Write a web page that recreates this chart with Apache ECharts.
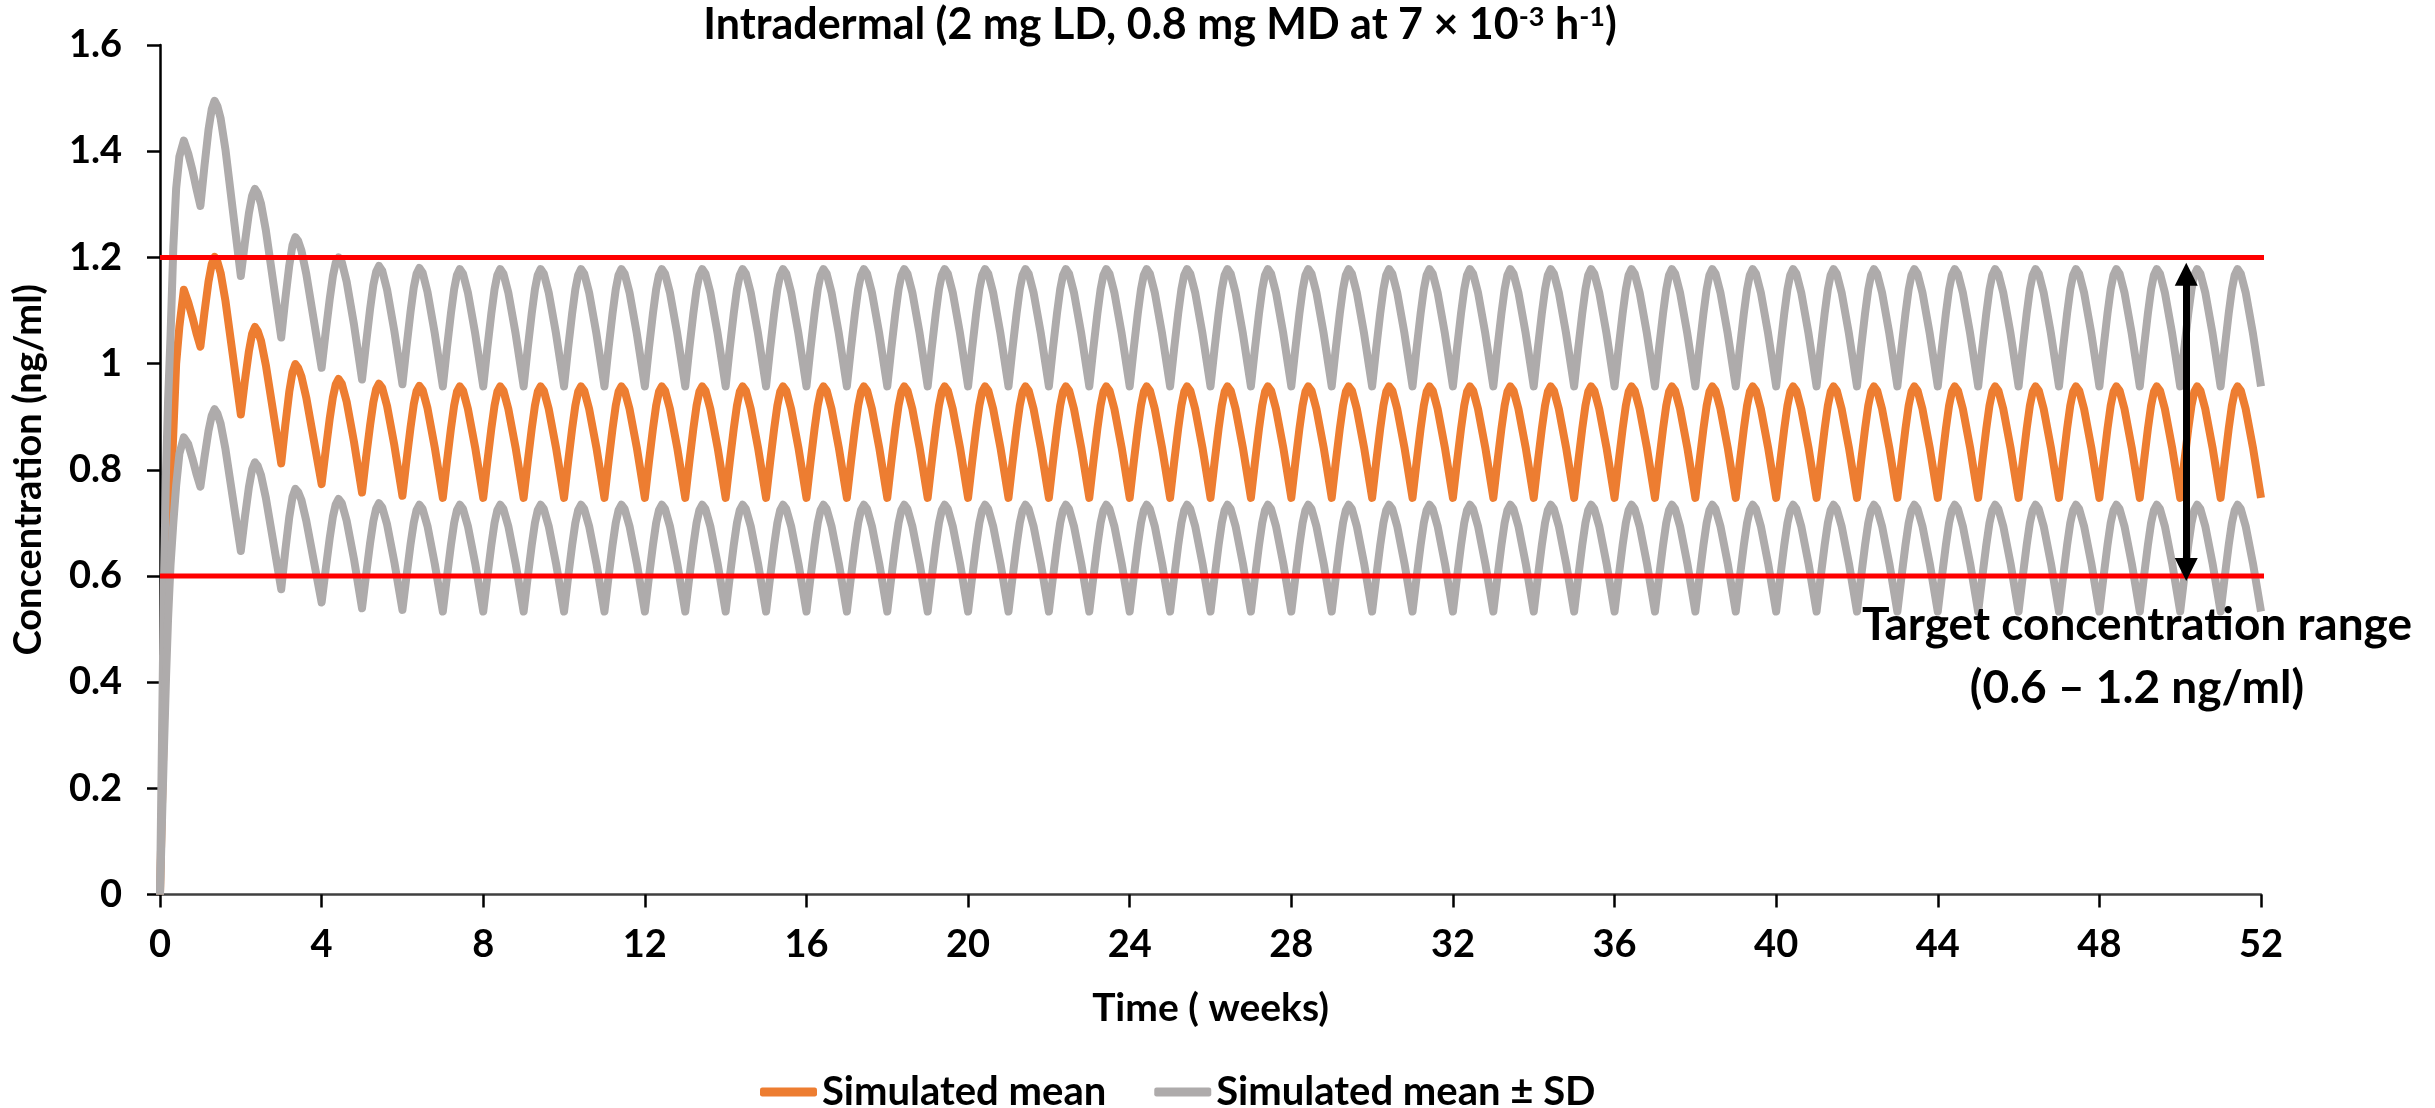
<!DOCTYPE html>
<html>
<head>
<meta charset="utf-8">
<title>Intradermal</title>
<script src="https://cdn.jsdelivr.net/npm/echarts@6/dist/echarts.min.js"></script>
<style>
    html, body { margin: 0; padding: 0; background: #ffffff; }
    #chart { width: 2435px; height: 1108px; }
</style>
</head>
<body>
<div id="chart"></div>
<script>
// sample times (weeks)
var weeks = [
    0, 0.05, 0.1, 0.15, 0.2, 0.26, 0.33, 0.4, 0.48, 0.59, 0.7, 0.8, 0.9,
    1, 1.1, 1.2, 1.28, 1.35, 1.42, 1.5, 1.62, 1.8,
    2, 2.1, 2.2, 2.28, 2.35, 2.42, 2.5, 2.62, 2.8,
    3, 3.1, 3.2, 3.28, 3.35, 3.42, 3.5, 3.62, 3.8,
    4, 4.1, 4.2, 4.28, 4.35, 4.42, 4.5, 4.62, 4.8,
    5, 5.1, 5.2, 5.28, 5.35, 5.42, 5.5, 5.62, 5.8,
    6, 6.1, 6.2, 6.28, 6.35, 6.42, 6.5, 6.62, 6.8,
    7, 7.1, 7.2, 7.28, 7.35, 7.42, 7.5, 7.62, 7.8,
    8, 8.1, 8.2, 8.28, 8.35, 8.42, 8.5, 8.62, 8.8,
    9, 9.1, 9.2, 9.28, 9.35, 9.42, 9.5, 9.62, 9.8,
    10, 10.1, 10.2, 10.28, 10.35, 10.42, 10.5, 10.62, 10.8,
    11, 11.1, 11.2, 11.28, 11.35, 11.42, 11.5, 11.62, 11.8,
    12, 12.1, 12.2, 12.28, 12.35, 12.42, 12.5, 12.62, 12.8,
    13, 13.1, 13.2, 13.28, 13.35, 13.42, 13.5, 13.62, 13.8,
    14, 14.1, 14.2, 14.28, 14.35, 14.42, 14.5, 14.62, 14.8,
    15, 15.1, 15.2, 15.28, 15.35, 15.42, 15.5, 15.62, 15.8,
    16, 16.1, 16.2, 16.28, 16.35, 16.42, 16.5, 16.62, 16.8,
    17, 17.1, 17.2, 17.28, 17.35, 17.42, 17.5, 17.62, 17.8,
    18, 18.1, 18.2, 18.28, 18.35, 18.42, 18.5, 18.62, 18.8,
    19, 19.1, 19.2, 19.28, 19.35, 19.42, 19.5, 19.62, 19.8,
    20, 20.1, 20.2, 20.28, 20.35, 20.42, 20.5, 20.62, 20.8,
    21, 21.1, 21.2, 21.28, 21.35, 21.42, 21.5, 21.62, 21.8,
    22, 22.1, 22.2, 22.28, 22.35, 22.42, 22.5, 22.62, 22.8,
    23, 23.1, 23.2, 23.28, 23.35, 23.42, 23.5, 23.62, 23.8,
    24, 24.1, 24.2, 24.28, 24.35, 24.42, 24.5, 24.62, 24.8,
    25, 25.1, 25.2, 25.28, 25.35, 25.42, 25.5, 25.62, 25.8,
    26, 26.1, 26.2, 26.28, 26.35, 26.42, 26.5, 26.62, 26.8,
    27, 27.1, 27.2, 27.28, 27.35, 27.42, 27.5, 27.62, 27.8,
    28, 28.1, 28.2, 28.28, 28.35, 28.42, 28.5, 28.62, 28.8,
    29, 29.1, 29.2, 29.28, 29.35, 29.42, 29.5, 29.62, 29.8,
    30, 30.1, 30.2, 30.28, 30.35, 30.42, 30.5, 30.62, 30.8,
    31, 31.1, 31.2, 31.28, 31.35, 31.42, 31.5, 31.62, 31.8,
    32, 32.1, 32.2, 32.28, 32.35, 32.42, 32.5, 32.62, 32.8,
    33, 33.1, 33.2, 33.28, 33.35, 33.42, 33.5, 33.62, 33.8,
    34, 34.1, 34.2, 34.28, 34.35, 34.42, 34.5, 34.62, 34.8,
    35, 35.1, 35.2, 35.28, 35.35, 35.42, 35.5, 35.62, 35.8,
    36, 36.1, 36.2, 36.28, 36.35, 36.42, 36.5, 36.62, 36.8,
    37, 37.1, 37.2, 37.28, 37.35, 37.42, 37.5, 37.62, 37.8,
    38, 38.1, 38.2, 38.28, 38.35, 38.42, 38.5, 38.62, 38.8,
    39, 39.1, 39.2, 39.28, 39.35, 39.42, 39.5, 39.62, 39.8,
    40, 40.1, 40.2, 40.28, 40.35, 40.42, 40.5, 40.62, 40.8,
    41, 41.1, 41.2, 41.28, 41.35, 41.42, 41.5, 41.62, 41.8,
    42, 42.1, 42.2, 42.28, 42.35, 42.42, 42.5, 42.62, 42.8,
    43, 43.1, 43.2, 43.28, 43.35, 43.42, 43.5, 43.62, 43.8,
    44, 44.1, 44.2, 44.28, 44.35, 44.42, 44.5, 44.62, 44.8,
    45, 45.1, 45.2, 45.28, 45.35, 45.42, 45.5, 45.62, 45.8,
    46, 46.1, 46.2, 46.28, 46.35, 46.42, 46.5, 46.62, 46.8,
    47, 47.1, 47.2, 47.28, 47.35, 47.42, 47.5, 47.62, 47.8,
    48, 48.1, 48.2, 48.28, 48.35, 48.42, 48.5, 48.62, 48.8,
    49, 49.1, 49.2, 49.28, 49.35, 49.42, 49.5, 49.62, 49.8,
    50, 50.1, 50.2, 50.28, 50.35, 50.42, 50.5, 50.62, 50.8,
    51, 51.1, 51.2, 51.28, 51.35, 51.42, 51.5, 51.62, 51.8,
    52
];

// simulated mean (ng/ml)
var simMean = [
    0, 0.17, 0.33, 0.47, 0.61, 0.74, 0.87, 1.00, 1.07, 1.139, 1.115, 1.088, 1.058,
    1.032, 1.096, 1.154, 1.187, 1.201, 1.192, 1.171, 1.118, 1.017,
    0.904, 0.967, 1.023, 1.056, 1.069, 1.061, 1.043, 0.997, 0.910,
    0.812, 0.883, 0.947, 0.984, 0.999, 0.992, 0.976, 0.936, 0.859,
    0.773, 0.836, 0.896, 0.937, 0.961, 0.971, 0.962, 0.928, 0.853,
    0.757, 0.823, 0.884, 0.927, 0.952, 0.962, 0.954, 0.920, 0.846,
    0.751, 0.817, 0.879, 0.923, 0.948, 0.958, 0.950, 0.916, 0.842,
    0.747, 0.814, 0.877, 0.921, 0.947, 0.957, 0.949, 0.915, 0.842,
    0.747, 0.814, 0.877, 0.921, 0.947, 0.957, 0.949, 0.915, 0.842,
    0.747, 0.814, 0.877, 0.921, 0.947, 0.957, 0.949, 0.915, 0.842,
    0.747, 0.814, 0.877, 0.921, 0.947, 0.957, 0.949, 0.915, 0.842,
    0.747, 0.814, 0.877, 0.921, 0.947, 0.957, 0.949, 0.915, 0.842,
    0.747, 0.814, 0.877, 0.921, 0.947, 0.957, 0.949, 0.915, 0.842,
    0.747, 0.814, 0.877, 0.921, 0.947, 0.957, 0.949, 0.915, 0.842,
    0.747, 0.814, 0.877, 0.921, 0.947, 0.957, 0.949, 0.915, 0.842,
    0.747, 0.814, 0.877, 0.921, 0.947, 0.957, 0.949, 0.915, 0.842,
    0.747, 0.814, 0.877, 0.921, 0.947, 0.957, 0.949, 0.915, 0.842,
    0.747, 0.814, 0.877, 0.921, 0.947, 0.957, 0.949, 0.915, 0.842,
    0.747, 0.814, 0.877, 0.921, 0.947, 0.957, 0.949, 0.915, 0.842,
    0.747, 0.814, 0.877, 0.921, 0.947, 0.957, 0.949, 0.915, 0.842,
    0.747, 0.814, 0.877, 0.921, 0.947, 0.957, 0.949, 0.915, 0.842,
    0.747, 0.814, 0.877, 0.921, 0.947, 0.957, 0.949, 0.915, 0.842,
    0.747, 0.814, 0.877, 0.921, 0.947, 0.957, 0.949, 0.915, 0.842,
    0.747, 0.814, 0.877, 0.921, 0.947, 0.957, 0.949, 0.915, 0.842,
    0.747, 0.814, 0.877, 0.921, 0.947, 0.957, 0.949, 0.915, 0.842,
    0.747, 0.814, 0.877, 0.921, 0.947, 0.957, 0.949, 0.915, 0.842,
    0.747, 0.814, 0.877, 0.921, 0.947, 0.957, 0.949, 0.915, 0.842,
    0.747, 0.814, 0.877, 0.921, 0.947, 0.957, 0.949, 0.915, 0.842,
    0.747, 0.814, 0.877, 0.921, 0.947, 0.957, 0.949, 0.915, 0.842,
    0.747, 0.814, 0.877, 0.921, 0.947, 0.957, 0.949, 0.915, 0.842,
    0.747, 0.814, 0.877, 0.921, 0.947, 0.957, 0.949, 0.915, 0.842,
    0.747, 0.814, 0.877, 0.921, 0.947, 0.957, 0.949, 0.915, 0.842,
    0.747, 0.814, 0.877, 0.921, 0.947, 0.957, 0.949, 0.915, 0.842,
    0.747, 0.814, 0.877, 0.921, 0.947, 0.957, 0.949, 0.915, 0.842,
    0.747, 0.814, 0.877, 0.921, 0.947, 0.957, 0.949, 0.915, 0.842,
    0.747, 0.814, 0.877, 0.921, 0.947, 0.957, 0.949, 0.915, 0.842,
    0.747, 0.814, 0.877, 0.921, 0.947, 0.957, 0.949, 0.915, 0.842,
    0.747, 0.814, 0.877, 0.921, 0.947, 0.957, 0.949, 0.915, 0.842,
    0.747, 0.814, 0.877, 0.921, 0.947, 0.957, 0.949, 0.915, 0.842,
    0.747, 0.814, 0.877, 0.921, 0.947, 0.957, 0.949, 0.915, 0.842,
    0.747, 0.814, 0.877, 0.921, 0.947, 0.957, 0.949, 0.915, 0.842,
    0.747, 0.814, 0.877, 0.921, 0.947, 0.957, 0.949, 0.915, 0.842,
    0.747, 0.814, 0.877, 0.921, 0.947, 0.957, 0.949, 0.915, 0.842,
    0.747, 0.814, 0.877, 0.921, 0.947, 0.957, 0.949, 0.915, 0.842,
    0.747, 0.814, 0.877, 0.921, 0.947, 0.957, 0.949, 0.915, 0.842,
    0.747, 0.814, 0.877, 0.921, 0.947, 0.957, 0.949, 0.915, 0.842,
    0.747, 0.814, 0.877, 0.921, 0.947, 0.957, 0.949, 0.915, 0.842,
    0.747, 0.814, 0.877, 0.921, 0.947, 0.957, 0.949, 0.915, 0.842,
    0.747, 0.814, 0.877, 0.921, 0.947, 0.957, 0.949, 0.915, 0.842,
    0.747, 0.814, 0.877, 0.921, 0.947, 0.957, 0.949, 0.915, 0.842,
    0.747, 0.814, 0.877, 0.921, 0.947, 0.957, 0.949, 0.915, 0.842,
    0.747, 0.814, 0.877, 0.921, 0.947, 0.957, 0.949, 0.915, 0.842,
    0.747
];

// simulated mean + SD
var simUpper = [
    0, 0.30, 0.60, 0.80, 0.93, 1.05, 1.22, 1.33, 1.39, 1.420, 1.395, 1.365, 1.330,
    1.297, 1.372, 1.440, 1.479, 1.495, 1.485, 1.462, 1.403, 1.290,
    1.165, 1.227, 1.283, 1.316, 1.329, 1.321, 1.301, 1.251, 1.155,
    1.049, 1.121, 1.185, 1.223, 1.238, 1.231, 1.213, 1.169, 1.085,
    0.992, 1.059, 1.121, 1.165, 1.190, 1.200, 1.191, 1.154, 1.074,
    0.970, 1.038, 1.103, 1.148, 1.173, 1.184, 1.175, 1.139, 1.061,
    0.961, 1.031, 1.097, 1.143, 1.169, 1.180, 1.171, 1.135, 1.057,
    0.957, 1.028, 1.094, 1.140, 1.167, 1.178, 1.169, 1.134, 1.057,
    0.957, 1.028, 1.094, 1.140, 1.167, 1.178, 1.169, 1.134, 1.057,
    0.957, 1.028, 1.094, 1.140, 1.167, 1.178, 1.169, 1.134, 1.057,
    0.957, 1.028, 1.094, 1.140, 1.167, 1.178, 1.169, 1.134, 1.057,
    0.957, 1.028, 1.094, 1.140, 1.167, 1.178, 1.169, 1.134, 1.057,
    0.957, 1.028, 1.094, 1.140, 1.167, 1.178, 1.169, 1.134, 1.057,
    0.957, 1.028, 1.094, 1.140, 1.167, 1.178, 1.169, 1.134, 1.057,
    0.957, 1.028, 1.094, 1.140, 1.167, 1.178, 1.169, 1.134, 1.057,
    0.957, 1.028, 1.094, 1.140, 1.167, 1.178, 1.169, 1.134, 1.057,
    0.957, 1.028, 1.094, 1.140, 1.167, 1.178, 1.169, 1.134, 1.057,
    0.957, 1.028, 1.094, 1.140, 1.167, 1.178, 1.169, 1.134, 1.057,
    0.957, 1.028, 1.094, 1.140, 1.167, 1.178, 1.169, 1.134, 1.057,
    0.957, 1.028, 1.094, 1.140, 1.167, 1.178, 1.169, 1.134, 1.057,
    0.957, 1.028, 1.094, 1.140, 1.167, 1.178, 1.169, 1.134, 1.057,
    0.957, 1.028, 1.094, 1.140, 1.167, 1.178, 1.169, 1.134, 1.057,
    0.957, 1.028, 1.094, 1.140, 1.167, 1.178, 1.169, 1.134, 1.057,
    0.957, 1.028, 1.094, 1.140, 1.167, 1.178, 1.169, 1.134, 1.057,
    0.957, 1.028, 1.094, 1.140, 1.167, 1.178, 1.169, 1.134, 1.057,
    0.957, 1.028, 1.094, 1.140, 1.167, 1.178, 1.169, 1.134, 1.057,
    0.957, 1.028, 1.094, 1.140, 1.167, 1.178, 1.169, 1.134, 1.057,
    0.957, 1.028, 1.094, 1.140, 1.167, 1.178, 1.169, 1.134, 1.057,
    0.957, 1.028, 1.094, 1.140, 1.167, 1.178, 1.169, 1.134, 1.057,
    0.957, 1.028, 1.094, 1.140, 1.167, 1.178, 1.169, 1.134, 1.057,
    0.957, 1.028, 1.094, 1.140, 1.167, 1.178, 1.169, 1.134, 1.057,
    0.957, 1.028, 1.094, 1.140, 1.167, 1.178, 1.169, 1.134, 1.057,
    0.957, 1.028, 1.094, 1.140, 1.167, 1.178, 1.169, 1.134, 1.057,
    0.957, 1.028, 1.094, 1.140, 1.167, 1.178, 1.169, 1.134, 1.057,
    0.957, 1.028, 1.094, 1.140, 1.167, 1.178, 1.169, 1.134, 1.057,
    0.957, 1.028, 1.094, 1.140, 1.167, 1.178, 1.169, 1.134, 1.057,
    0.957, 1.028, 1.094, 1.140, 1.167, 1.178, 1.169, 1.134, 1.057,
    0.957, 1.028, 1.094, 1.140, 1.167, 1.178, 1.169, 1.134, 1.057,
    0.957, 1.028, 1.094, 1.140, 1.167, 1.178, 1.169, 1.134, 1.057,
    0.957, 1.028, 1.094, 1.140, 1.167, 1.178, 1.169, 1.134, 1.057,
    0.957, 1.028, 1.094, 1.140, 1.167, 1.178, 1.169, 1.134, 1.057,
    0.957, 1.028, 1.094, 1.140, 1.167, 1.178, 1.169, 1.134, 1.057,
    0.957, 1.028, 1.094, 1.140, 1.167, 1.178, 1.169, 1.134, 1.057,
    0.957, 1.028, 1.094, 1.140, 1.167, 1.178, 1.169, 1.134, 1.057,
    0.957, 1.028, 1.094, 1.140, 1.167, 1.178, 1.169, 1.134, 1.057,
    0.957, 1.028, 1.094, 1.140, 1.167, 1.178, 1.169, 1.134, 1.057,
    0.957, 1.028, 1.094, 1.140, 1.167, 1.178, 1.169, 1.134, 1.057,
    0.957, 1.028, 1.094, 1.140, 1.167, 1.178, 1.169, 1.134, 1.057,
    0.957, 1.028, 1.094, 1.140, 1.167, 1.178, 1.169, 1.134, 1.057,
    0.957, 1.028, 1.094, 1.140, 1.167, 1.178, 1.169, 1.134, 1.057,
    0.957, 1.028, 1.094, 1.140, 1.167, 1.178, 1.169, 1.134, 1.057,
    0.957, 1.028, 1.094, 1.140, 1.167, 1.178, 1.169, 1.134, 1.057,
    0.957
];

// simulated mean - SD
var simLower = [
    0, 0.14, 0.28, 0.41, 0.52, 0.62, 0.70, 0.77, 0.83, 0.861, 0.848, 0.822, 0.793,
    0.768, 0.823, 0.873, 0.902, 0.914, 0.906, 0.887, 0.839, 0.748,
    0.647, 0.710, 0.767, 0.801, 0.814, 0.807, 0.790, 0.747, 0.666,
    0.575, 0.647, 0.711, 0.749, 0.764, 0.758, 0.743, 0.704, 0.631,
    0.550, 0.612, 0.671, 0.712, 0.735, 0.745, 0.737, 0.704, 0.632,
    0.539, 0.602, 0.662, 0.703, 0.727, 0.737, 0.729, 0.697, 0.626,
    0.536, 0.599, 0.659, 0.700, 0.724, 0.734, 0.726, 0.694, 0.623,
    0.533, 0.597, 0.658, 0.700, 0.724, 0.734, 0.726, 0.694, 0.624,
    0.533, 0.597, 0.658, 0.700, 0.724, 0.734, 0.726, 0.694, 0.624,
    0.533, 0.597, 0.658, 0.700, 0.724, 0.734, 0.726, 0.694, 0.624,
    0.533, 0.597, 0.658, 0.700, 0.724, 0.734, 0.726, 0.694, 0.624,
    0.533, 0.597, 0.658, 0.700, 0.724, 0.734, 0.726, 0.694, 0.624,
    0.533, 0.597, 0.658, 0.700, 0.724, 0.734, 0.726, 0.694, 0.624,
    0.533, 0.597, 0.658, 0.700, 0.724, 0.734, 0.726, 0.694, 0.624,
    0.533, 0.597, 0.658, 0.700, 0.724, 0.734, 0.726, 0.694, 0.624,
    0.533, 0.597, 0.658, 0.700, 0.724, 0.734, 0.726, 0.694, 0.624,
    0.533, 0.597, 0.658, 0.700, 0.724, 0.734, 0.726, 0.694, 0.624,
    0.533, 0.597, 0.658, 0.700, 0.724, 0.734, 0.726, 0.694, 0.624,
    0.533, 0.597, 0.658, 0.700, 0.724, 0.734, 0.726, 0.694, 0.624,
    0.533, 0.597, 0.658, 0.700, 0.724, 0.734, 0.726, 0.694, 0.624,
    0.533, 0.597, 0.658, 0.700, 0.724, 0.734, 0.726, 0.694, 0.624,
    0.533, 0.597, 0.658, 0.700, 0.724, 0.734, 0.726, 0.694, 0.624,
    0.533, 0.597, 0.658, 0.700, 0.724, 0.734, 0.726, 0.694, 0.624,
    0.533, 0.597, 0.658, 0.700, 0.724, 0.734, 0.726, 0.694, 0.624,
    0.533, 0.597, 0.658, 0.700, 0.724, 0.734, 0.726, 0.694, 0.624,
    0.533, 0.597, 0.658, 0.700, 0.724, 0.734, 0.726, 0.694, 0.624,
    0.533, 0.597, 0.658, 0.700, 0.724, 0.734, 0.726, 0.694, 0.624,
    0.533, 0.597, 0.658, 0.700, 0.724, 0.734, 0.726, 0.694, 0.624,
    0.533, 0.597, 0.658, 0.700, 0.724, 0.734, 0.726, 0.694, 0.624,
    0.533, 0.597, 0.658, 0.700, 0.724, 0.734, 0.726, 0.694, 0.624,
    0.533, 0.597, 0.658, 0.700, 0.724, 0.734, 0.726, 0.694, 0.624,
    0.533, 0.597, 0.658, 0.700, 0.724, 0.734, 0.726, 0.694, 0.624,
    0.533, 0.597, 0.658, 0.700, 0.724, 0.734, 0.726, 0.694, 0.624,
    0.533, 0.597, 0.658, 0.700, 0.724, 0.734, 0.726, 0.694, 0.624,
    0.533, 0.597, 0.658, 0.700, 0.724, 0.734, 0.726, 0.694, 0.624,
    0.533, 0.597, 0.658, 0.700, 0.724, 0.734, 0.726, 0.694, 0.624,
    0.533, 0.597, 0.658, 0.700, 0.724, 0.734, 0.726, 0.694, 0.624,
    0.533, 0.597, 0.658, 0.700, 0.724, 0.734, 0.726, 0.694, 0.624,
    0.533, 0.597, 0.658, 0.700, 0.724, 0.734, 0.726, 0.694, 0.624,
    0.533, 0.597, 0.658, 0.700, 0.724, 0.734, 0.726, 0.694, 0.624,
    0.533, 0.597, 0.658, 0.700, 0.724, 0.734, 0.726, 0.694, 0.624,
    0.533, 0.597, 0.658, 0.700, 0.724, 0.734, 0.726, 0.694, 0.624,
    0.533, 0.597, 0.658, 0.700, 0.724, 0.734, 0.726, 0.694, 0.624,
    0.533, 0.597, 0.658, 0.700, 0.724, 0.734, 0.726, 0.694, 0.624,
    0.533, 0.597, 0.658, 0.700, 0.724, 0.734, 0.726, 0.694, 0.624,
    0.533, 0.597, 0.658, 0.700, 0.724, 0.734, 0.726, 0.694, 0.624,
    0.533, 0.597, 0.658, 0.700, 0.724, 0.734, 0.726, 0.694, 0.624,
    0.533, 0.597, 0.658, 0.700, 0.724, 0.734, 0.726, 0.694, 0.624,
    0.533, 0.597, 0.658, 0.700, 0.724, 0.734, 0.726, 0.694, 0.624,
    0.533, 0.597, 0.658, 0.700, 0.724, 0.734, 0.726, 0.694, 0.624,
    0.533, 0.597, 0.658, 0.700, 0.724, 0.734, 0.726, 0.694, 0.624,
    0.533, 0.597, 0.658, 0.700, 0.724, 0.734, 0.726, 0.694, 0.624,
    0.533
];

// target range lines and the arrow between them
var targetSpan = [0, 52.6];
var targetLow = 0.6;
var targetHigh = 1.2;
var arrowWeek = 50.15;
var arrowEnds = [1.168, 0.612];

function pairs(xs, ys) {
    var out = [];
    for (var i = 0; i < xs.length; i++) {
        out.push([xs[i], ys[i]]);
    }
    return out;
}

function drawChart() {

    var myChart = echarts.init(document.getElementById('chart'), null, {renderer: 'canvas'});

    var font = 'Lato';
    var orange = '#ED7D31';
    var gray = '#AEABAB';

    var option = {
        backgroundColor: '#ffffff',
        animation: false,
        grid: {
            left: 160,
            right: 174,
            top: 45,
            bottom: 213.5,
            containLabel: false,
            outerBoundsMode: 'none'
        },
        legend: {
            data: ['Simulated mean', 'Simulated mean ± SD'],
            left: 755,
            top: 1067,
            icon: 'roundRect',
            itemWidth: 57,
            itemHeight: 9,
            itemGap: 48,
            textStyle: {
                fontFamily: font,
                fontWeight: 'bold',
                fontSize: 40,
                color: '#000000'
            }
        },
        graphic: [
            {
                type: 'text',
                x: 1160,
                y: 25,
                style: {
                    text: 'Intradermal (2 mg LD, 0.8 mg MD at 7 × 10{sup|-3} h{sup|-1})',
                    font: 'bold 43px Lato',
                    fill: '#000000',
                    align: 'center',
                    verticalAlign: 'middle',
                    rich: {
                        sup: {
                            fontFamily: font,
                            fontWeight: 'bold',
                            fontSize: 27,
                            verticalAlign: 'top',
                            fill: '#000000'
                        }
                    }
                },
                z: 100
            },
            {
                type: 'text',
                x: 2137,
                y: 625,
                style: {
                    text: 'Target concentration range',
                    font: 'bold 46px Lato',
                    fill: '#000000',
                    align: 'center',
                    verticalAlign: 'middle'
                },
                z: 100
            },
            {
                type: 'text',
                x: 2137,
                y: 688,
                style: {
                    text: '(0.6 – 1.2 ng/ml)',
                    font: 'bold 46px Lato',
                    fill: '#000000',
                    align: 'center',
                    verticalAlign: 'middle'
                },
                z: 100
            }
        ],
        xAxis: {
            type: 'value',
            name: 'Time ( weeks)',
            nameLocation: 'middle',
            nameGap: 94,
            nameTextStyle: {
                fontFamily: font,
                fontWeight: 'bold',
                fontSize: 39,
                color: '#000000'
            },
            min: 0,
            max: 52,
            interval: 4,
            axisLine: {lineStyle: {color: '#404040', width: 2.5}},
            axisTick: {show: true, inside: false, length: 13, lineStyle: {color: '#000000', width: 2.5}},
            axisLabel: {
                margin: 31,
                fontFamily: font,
                fontWeight: 'bold',
                fontSize: 38,
                color: '#000000'
            },
            splitLine: {show: false}
        },
        yAxis: {
            type: 'value',
            name: 'Concentration (ng/ml)',
            nameLocation: 'middle',
            nameGap: 112,
            nameRotate: 90,
            nameTextStyle: {
                fontFamily: font,
                fontWeight: 'bold',
                fontSize: 38,
                color: '#000000'
            },
            min: 0,
            max: 1.6,
            interval: 0.2,
            axisLine: {show: true, lineStyle: {color: '#000000', width: 2.5}},
            axisTick: {show: true, inside: false, length: 13, lineStyle: {color: '#000000', width: 2.5}},
            axisLabel: {
                margin: 38,
                fontFamily: font,
                fontWeight: 'bold',
                fontSize: 38,
                color: '#000000'
            },
            splitLine: {show: false}
        },
        series: [
            {
                name: 'Simulated mean',
                type: 'line',
                data: pairs(weeks, simMean),
                showSymbol: false,
                symbol: 'none',
                color: orange,
                lineStyle: {color: orange, width: 8, join: 'round'},
                z: 3
            },
            {
                name: 'Simulated mean ± SD',
                type: 'line',
                data: pairs(weeks, simUpper),
                showSymbol: false,
                symbol: 'none',
                color: gray,
                lineStyle: {color: gray, width: 8, join: 'round'},
                z: 4
            },
            {
                name: 'Simulated mean ± SD',
                type: 'line',
                data: pairs(weeks, simLower),
                showSymbol: false,
                symbol: 'none',
                color: gray,
                lineStyle: {color: gray, width: 8, join: 'round'},
                z: 4
            },
            {
                name: 'upper target',
                type: 'line',
                data: pairs(targetSpan, [targetHigh, targetHigh]),
                showSymbol: false,
                symbol: 'none',
                clip: false,
                lineStyle: {color: '#FF0000', width: 5},
                z: 5
            },
            {
                name: 'lower target',
                type: 'line',
                data: pairs(targetSpan, [targetLow, targetLow]),
                showSymbol: false,
                symbol: 'none',
                clip: false,
                lineStyle: {color: '#FF0000', width: 5},
                z: 5
            },
            {
                name: 'target arrow',
                type: 'lines',
                coordinateSystem: 'cartesian2d',
                symbol: ['triangle', 'triangle'],
                symbolSize: 23,
                lineStyle: {color: '#000000', width: 7, opacity: 1},
                itemStyle: {color: '#000000'},
                data: [{coords: [[arrowWeek, arrowEnds[0]], [arrowWeek, arrowEnds[1]]]}],
                z: 6
            }
        ]
    };

    myChart.setOption(option);
}

drawChart();
</script>
</body>
</html>
